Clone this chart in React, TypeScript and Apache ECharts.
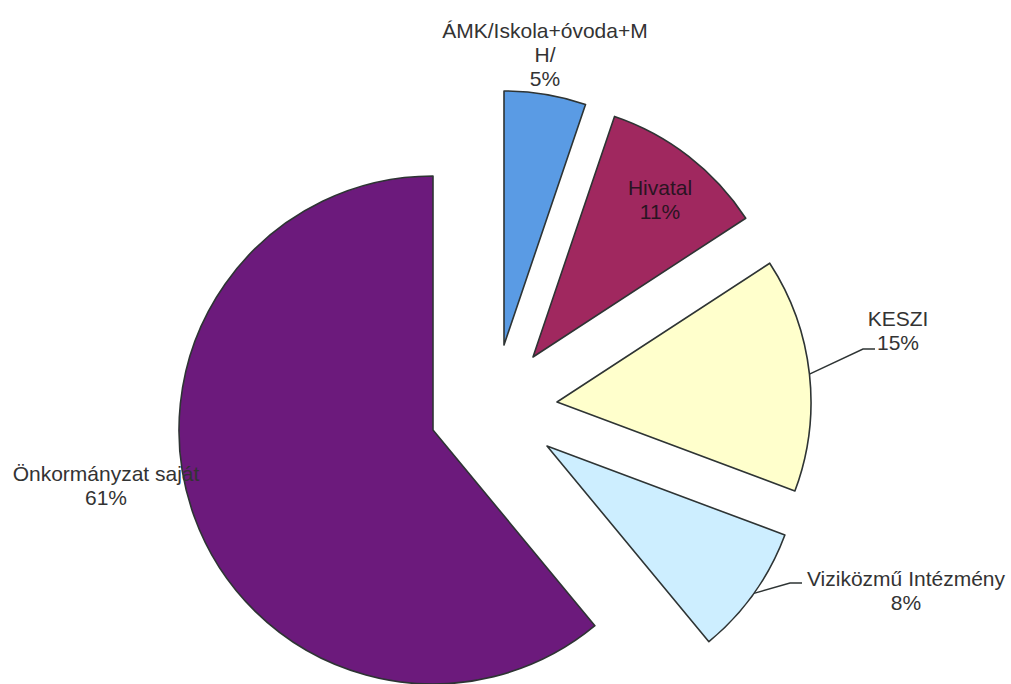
import React, { useEffect, useRef } from "react";
import * as echarts from "echarts";

// Data
const categories = [
  "ÁMK/Iskola+óvoda+MH/",
  "Hivatal",
  "KESZI",
  "Viziközmű Intézmény",
  "Önkormányzat saját",
];
const values = [5.2, 10.6, 14.9, 8.3, 61.0];

// Styles / layout (not data)
const colors = ["#5a9be4", "#a0285f", "#ffffcc", "#cdeeff", "#6c1a7c"];
// exploded slice apex positions (pixels)
const sliceCenters: [number, number][] = [
  [504, 345],
  [533, 357],
  [557, 402],
  [547, 446],
  [433, 430],
];
const labelPos: [number, number][] = [
  [545, 54],
  [660, 199],
  [898, 330],
  [906, 590],
  [106, 485],
];
// wrap position for long labels (Excel-style character wrap)
const wrapAt = [18, 0, 0, 0, 0];
// label line elbow/end points for slices that have leader lines
const leaderLines: ([number, number][] | null)[] = [
  null,
  null,
  [
    [863, 349],
    [875, 349],
  ],
  [
    [790, 583],
    [802, 583],
  ],
  null,
];
const RADIUS = 254;
const FONT = "'Liberation Sans', Arial, Helvetica, sans-serif";

export default function App() {
  const ref = useRef<HTMLDivElement>(null);

  useEffect(() => {
    if (!ref.current) return;
    const chart = echarts.init(ref.current, null, { renderer: "svg" });

    const series = categories.map((_, i) => ({
      type: "pie",
      center: sliceCenters[i],
      radius: RADIUS,
      startAngle: 90,
      clockwise: true,
      silent: true,
      avoidLabelOverlap: false,
      percentPrecision: 0,
      z: i === 4 ? 1 : 2,
      label: {
        show: true,
        position: i === 1 ? "inside" : "outside",
        formatter: (p: any) => {
          const n: string = p.name;
          const w = wrapAt[p.dataIndex];
          const name = w > 0 && n.length > w ? n.slice(0, w) + "\n" + n.slice(w) : n;
          return name + "\n" + p.percent + "%";
        },
        fontFamily: FONT,
        fontSize: 21,
        lineHeight: 24,
        color: i === 1 ? "#2a1422" : "#333333",
        align: "center",
      },
      labelLine: {
        show: !!leaderLines[i],
        lineStyle: { color: "#2e3434", width: 1.5 },
      },
      labelLayout: (params: any) => {
        const out: any = {
          x: labelPos[i][0],
          y: labelPos[i][1],
          align: "center",
          verticalAlign: "middle",
        };
        const ll = leaderLines[i];
        if (ll && params.dataIndex === i) {
          const start =
            params.labelLinePoints && params.labelLinePoints[0]
              ? params.labelLinePoints[0]
              : ll[0];
          out.labelLinePoints = [start, ll[0], ll[1]];
        }
        return out;
      },
      data: values.map((v, j) => ({
        name: categories[j],
        value: v,
        itemStyle:
          j === i
            ? { color: colors[j], borderColor: "#2e3434", borderWidth: 1.6 }
            : { color: "rgba(0,0,0,0)", borderWidth: 0 },
        label: { show: j === i },
        labelLine: { show: j === i && !!leaderLines[i] },
      })),
    }));

    chart.setOption({
      animation: false,
      backgroundColor: "#ffffff",
      series,
    } as any);

    return () => chart.dispose();
  }, []);

  return (
    <div
      ref={ref}
      style={{ position: "absolute", left: 0, top: 0, width: 1011, height: 684 }}
    />
  );
}
